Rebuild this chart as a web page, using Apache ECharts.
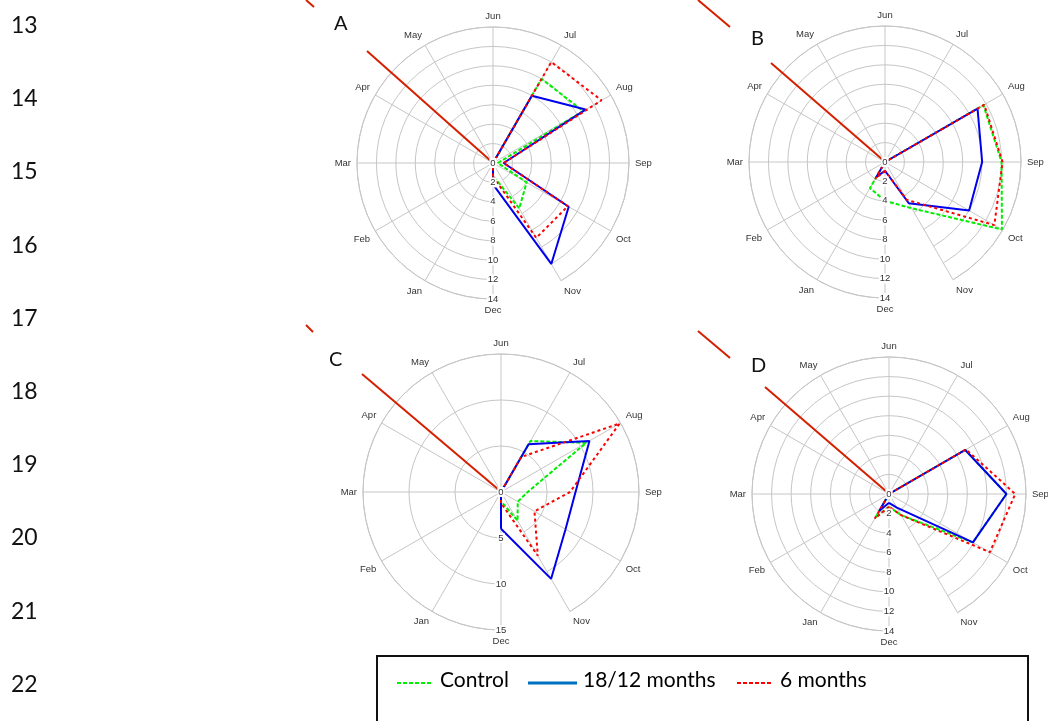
<!DOCTYPE html>
<html>
<head>
<meta charset="utf-8">
<script src="https://cdn.jsdelivr.net/npm/echarts@6/dist/echarts.min.js"></script>
<style>
  html, body { margin: 0; padding: 0; background: #fff; }
  #main { width: 1048px; height: 721px; }
</style>
</head>
<body>
<div id="main"></div>
<script>
// Months, listed clockwise starting from the bottom spoke (Dec)
const months = ['Dec', 'Jan', 'Feb', 'Mar', 'Apr', 'May', 'Jun', 'Jul', 'Aug', 'Sep', 'Oct', 'Nov'];

// Panel letters and radial scales
const panelNames = ['A', 'B', 'C', 'D'];
const radiusMax = [14, 14, 15, 14];
const radiusStep = [2, 2, 5, 2];

// Monthly values per panel (order follows `months`)
const controlA = [1.3, 0, 0, 0, 0, 0, 0, 10, 10.7, 0.5, 4, 5.4];
const m18A     = [2.2, 0, 0, 0, 0, 0, 0, 8, 11, 1.1, 9, 12];
const m6A      = [1.4, 0, 0, 0, 0, 0, 0, 12, 12.9, 1.1, 8.9, 8.9];

const controlB = [4, 3.1, 0, 0, 0, 0, 0, 0, 11.7, 12, 13.9, 5.5];
const m18B     = [0.9, 1.8, 0, 0, 0, 0, 0, 0, 11, 10, 10, 4.9];
const m6B      = [0.9, 2.0, 0, 0, 0, 0, 0, 0, 11.8, 12.1, 13, 4.5];

const controlC = [1.0, 0, 0, 0, 0, 0, 0, 6.4, 10.7, 2.9, 2.1, 3.6];
const m18C     = [4, 0, 0, 0, 0, 0, 0, 6, 11.1, 8.1, 8.1, 10.9];
const m6C      = [1.2, 0, 0, 0, 0, 0, 0, 4.4, 14.9, 7.5, 4.2, 8];

const controlD = [1.3, 2.8, 0, 0, 0, 0, 0, 0, 9, 12, 9.9, 2.5];
const m18D     = [0.9, 2.0, 0, 0, 0, 0, 0, 0, 9, 12, 9.9, 1.6];
const m6D      = [1.3, 2.9, 0, 0, 0, 0, 0, 0, 9.1, 12.9, 11.9, 2.5];

// Legend entries
const seriesNames = ['Control', '18/12 months', '6 months'];
const lineNumbers = [13, 14, 15, 16, 17, 18, 19, 20, 21, 22];

const panelData = [
  [controlA, m18A, m6A],
  [controlB, m18B, m6B],
  [controlC, m18C, m6C],
  [controlD, m18D, m6D]
];

// Layout of the four polar panels
const centers = [[493, 163], [885, 162], [501, 492], [889, 494]];
const radii = [136, 136, 138, 137];

const gridColor = '#c6c6c6';
const labelFont = 'Liberation Sans, Arial, sans-serif';

const lineStyles = [
  { color: '#00ee00', width: 2, type: [4, 2] },
  { color: '#0000ee', width: 2, type: 'solid' },
  { color: '#ff0000', width: 2, type: [3, 3] }
];

const polar = [];
const angleAxis = [];
const radiusAxis = [];
const series = [];

// polar 0..3: grid + month labels
for (let i = 0; i < 4; i++) {
  polar.push({ center: centers[i], radius: radii[i] });
  angleAxis.push({
    polarIndex: i,
    type: 'category',
    data: months,
    boundaryGap: false,
    startAngle: 270,
    clockwise: true,
    z: 0,
    axisLine: { lineStyle: { color: gridColor, width: 1 } },
    axisTick: { show: false },
    axisLabel: { fontSize: 9.5, color: '#333', margin: 6, fontFamily: labelFont },
    splitLine: { show: true, lineStyle: { color: gridColor, width: 1 } }
  });
  radiusAxis.push({
    polarIndex: i,
    type: 'value',
    min: 0,
    max: radiusMax[i],
    interval: radiusStep[i],
    z: 0,
    axisLine: { show: false },
    axisTick: { show: false },
    axisLabel: { show: false },
    splitLine: { show: true, lineStyle: { color: gridColor, width: 1 } }
  });
}
// polar 4..7: month-index angle scale (full turn = 12 months) carrying the lines,
// with the radial tick labels drawn above them
for (let i = 0; i < 4; i++) {
  polar.push({ center: centers[i], radius: radii[i] });
  angleAxis.push({
    polarIndex: i + 4,
    type: 'value',
    min: 0,
    max: months.length,
    startAngle: 270,
    clockwise: true,
    show: false
  });
  radiusAxis.push({
    polarIndex: i + 4,
    type: 'value',
    min: 0,
    max: radiusMax[i],
    interval: radiusStep[i],
    z: 5,
    axisLine: { show: false },
    axisTick: { show: false },
    splitLine: { show: false },
    axisLabel: {
      show: true, margin: 0, align: 'center', verticalAlign: 'middle',
      fontSize: 9.5, color: '#333', fontFamily: labelFont,
      backgroundColor: '#fff', padding: [0, 1]
    }
  });
}

// close each polygon: the point after Nov is Dec again, one full turn later
function closedRing(values) {
  const pts = values.map((v, k) => [v, k]);
  pts.push([values[0], values.length]);
  return pts;
}

for (let i = 0; i < 4; i++) {
  for (let s = 0; s < 3; s++) {
    series.push({
      name: seriesNames[s],
      type: 'line',
      coordinateSystem: 'polar',
      polarIndex: i + 4,
      symbol: 'none',
      silent: true,
      clip: false,
      z: 2 + s * 0.1,
      lineStyle: lineStyles[s],
      data: closedRing(panelData[i][s])
    });
  }
}

// Page decorations: line numbers, panel letters, pointer lines, legend box
const graphic = [];
lineNumbers.forEach((n, k) => {
  graphic.push({
    type: 'text', left: 11, top: 27 + k * 73.2 - 13, z: 10,
    style: { text: String(n), fontSize: 23, fontFamily: 'Lato, sans-serif', fill: '#111' }
  });
});

const pointerLines = [
  [[306, 0], [314, 7]], [[367, 51], [492, 162]],
  [[698, 0], [730, 27]], [[771, 63], [883, 160]],
  [[306, 325], [313, 332]], [[362, 374], [499, 490]],
  [[698, 331], [730, 358]], [[765, 387], [887, 492]]
];
pointerLines.forEach(p => {
  graphic.push({
    type: 'line', z: 3, silent: true,
    shape: { x1: p[0][0], y1: p[0][1], x2: p[1][0], y2: p[1][1] },
    style: { stroke: '#d42000', lineWidth: 2 }
  });
});

const letterPos = [[334, 14], [751, 29], [329, 350], [751, 356]];
panelNames.forEach((t, k) => {
  graphic.push({
    type: 'text', x: letterPos[k][0], y: letterPos[k][1], z: 10,
    style: { text: t, fontSize: 20, fontFamily: 'Lato, sans-serif', fill: '#111' }
  });
});

graphic.push({
  type: 'rect', z: 10, silent: true,
  shape: { x: 377, y: 656, width: 651, height: 80 },
  style: { fill: '#fff', stroke: '#111', lineWidth: 2 }
});
const legendLines = [
  { x1: 397, x2: 432, stroke: '#00ee00', lineWidth: 2, dash: [4, 2] },
  { x1: 528, x2: 577, stroke: '#0070c0', lineWidth: 3, dash: null },
  { x1: 737, x2: 771, stroke: '#ff0000', lineWidth: 2, dash: [4, 2] }
];
const legendTextX = [440, 583, 780];
legendLines.forEach((l, k) => {
  graphic.push({
    type: 'line', z: 11, silent: true,
    shape: { x1: l.x1, y1: 683, x2: l.x2, y2: 683 },
    style: { stroke: l.stroke, lineWidth: l.lineWidth, lineDash: l.dash }
  });
  graphic.push({
    type: 'text', x: legendTextX[k], y: 670, z: 11,
    style: { text: seriesNames[k], fontSize: 21, fontFamily: 'Lato, sans-serif', fill: '#000' }
  });
});

const chart = echarts.init(document.getElementById('main'));
chart.setOption({
  animation: false,
  backgroundColor: '#fff',
  polar: polar,
  angleAxis: angleAxis,
  radiusAxis: radiusAxis,
  series: series,
  graphic: graphic
});
</script>
</body>
</html>
